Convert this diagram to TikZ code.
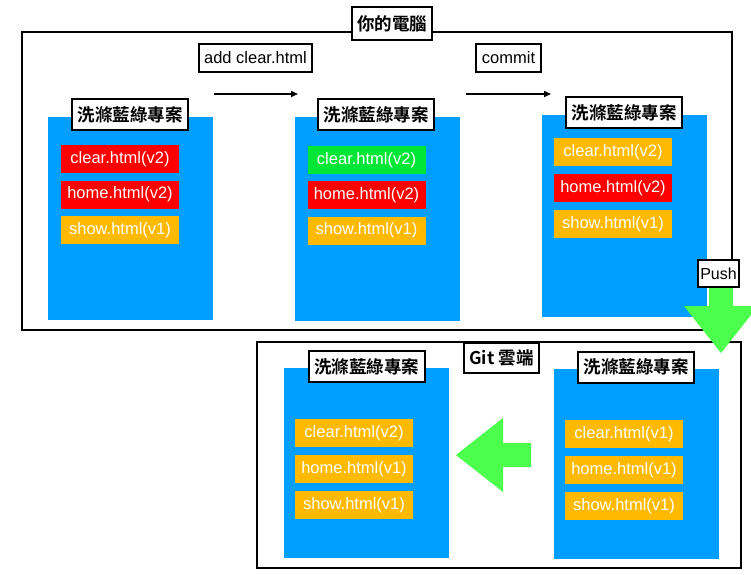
\documentclass[tikz,border=0pt]{standalone}
\usepackage{fontspec}
\setmainfont{Liberation Sans}
\newfontfamily\cjk{Noto Sans CJK TC}[BoldFont=* Bold]
\usetikzlibrary{arrows.meta}
\definecolor{proj}{RGB}{0,159,255}
\definecolor{fred}{RGB}{255,0,0}
\definecolor{fgreen}{RGB}{0,230,55}
\definecolor{forange}{RGB}{255,186,0}
\definecolor{bigarrow}{RGB}{76,255,76}
\tikzset{
  frame/.style={draw=black, line width=2pt, inner sep=0pt},
  tag/.style={draw=black, fill=white, line width=2pt, inner sep=0pt,
    font=\fontsize{16.5}{18}\selectfont},
  cjktag/.style={draw=black, fill=white, line width=2pt, inner sep=0pt,
    minimum width=116pt, minimum height=31pt,
    font=\cjk\bfseries\fontsize{17.5}{19}\selectfont},
  project/.style={fill=proj, inner sep=0pt, minimum width=165pt},
  file/.style={inner sep=0pt, minimum width=118pt, minimum height=28pt,
    text=white, font=\fontsize{16.5}{18}\selectfont},
  flow/.style={line width=1.6pt, -{Triangle[length=7pt,width=6pt]}},
  big/.style={fill=bigarrow, draw=none}
}
\begin{document}
\begin{tikzpicture}[x=1pt,y=-1pt]
\useasboundingbox (0,0) rectangle (751,574);
\fill[white] (0,0) rectangle (751,574);

% frames
\node[frame, minimum width=710pt, minimum height=298pt] (pc) at (377,181) {};
\node[frame, minimum width=484pt, minimum height=226pt] (cloud) at (499,455) {};
\node[cjktag, minimum width=80pt, minimum height=33pt] (pctitle) at (392,23.5) {你的電腦};

% project boxes
\node[project, minimum height=203pt] (p1) at (130.5,218.5) {};
\node[project, minimum height=204pt] (p2) at (377.5,219) {};
\node[project, minimum height=202pt] (p3) at (624.5,216) {};
\node[project, minimum height=190pt] (p4) at (366.5,463) {};
\node[project, minimum height=190pt] (p5) at (636.5,464) {};

\node[cjktag] (l1) at (130,114.5) {洗滌藍綠專案};
\node[cjktag] (l2) at (376,114.5) {洗滌藍綠專案};
\node[cjktag] (l3) at (624,112.5) {洗滌藍綠專案};
\node[cjktag] (l4) at (366.5,366.5) {洗滌藍綠專案};
\node[cjktag] (l5) at (636,367) {洗滌藍綠專案};

\node[cjktag, minimum width=75pt, minimum height=30pt] (cloudtitle) at (501.5,358) {Git 雲端};

% files
\node[file, fill=fred] (f11) at (120,159) {clear.html(v2)};
\node[file, fill=fred] (f12) at (120,194.5) {home.html(v2)};
\node[file, fill=forange] (f13) at (120,230) {show.html(v1)};

\node[file, fill=fgreen] (f21) at (366.5,160) {clear.html(v2)};
\node[file, fill=fred] (f22) at (366.5,195) {home.html(v2)};
\node[file, fill=forange] (f23) at (366.5,230.5) {show.html(v1)};

\node[file, fill=forange] (f31) at (613,152) {clear.html(v2)};
\node[file, fill=fred] (f32) at (613,188) {home.html(v2)};
\node[file, fill=forange] (f33) at (613,224) {show.html(v1)};

\node[file, fill=forange] (f41) at (354,433) {clear.html(v2)};
\node[file, fill=forange] (f42) at (354,469) {home.html(v1)};
\node[file, fill=forange] (f43) at (354,505) {show.html(v1)};

\node[file, fill=forange] (f51) at (624,434) {clear.html(v1)};
\node[file, fill=forange] (f52) at (624,470) {home.html(v1)};
\node[file, fill=forange] (f53) at (624,506) {show.html(v1)};

% step labels and arrows
\node[tag, minimum width=113pt, minimum height=28pt] (add) at (255.5,58) {add clear.html};
\node[tag, minimum width=65pt, minimum height=28pt] (commit) at (508.5,58) {commit};
\coordinate (a1s) at (214,94);
\coordinate (a1e) at (298,94);
\coordinate (a2s) at (466,94);
\coordinate (a2e) at (551,94);
\draw[flow] (a1s) -- (a1e);
\draw[flow] (a2s) -- (a2e);

% big green arrows
\draw[big] (709,287) -- (733,287) -- (733,306) -- (758,306) -- (721,353)
  -- (684,306) -- (709,306) -- cycle;
\draw[big] (531,443) -- (503,443) -- (503,418) -- (456,455) -- (503,492)
  -- (503,467) -- (531,467) -- cycle;

\node[tag, minimum width=41pt, minimum height=27pt, font=\fontsize{16}{18}\selectfont] (push) at (718.5,273.5) {Push};
\end{tikzpicture}
\end{document}
